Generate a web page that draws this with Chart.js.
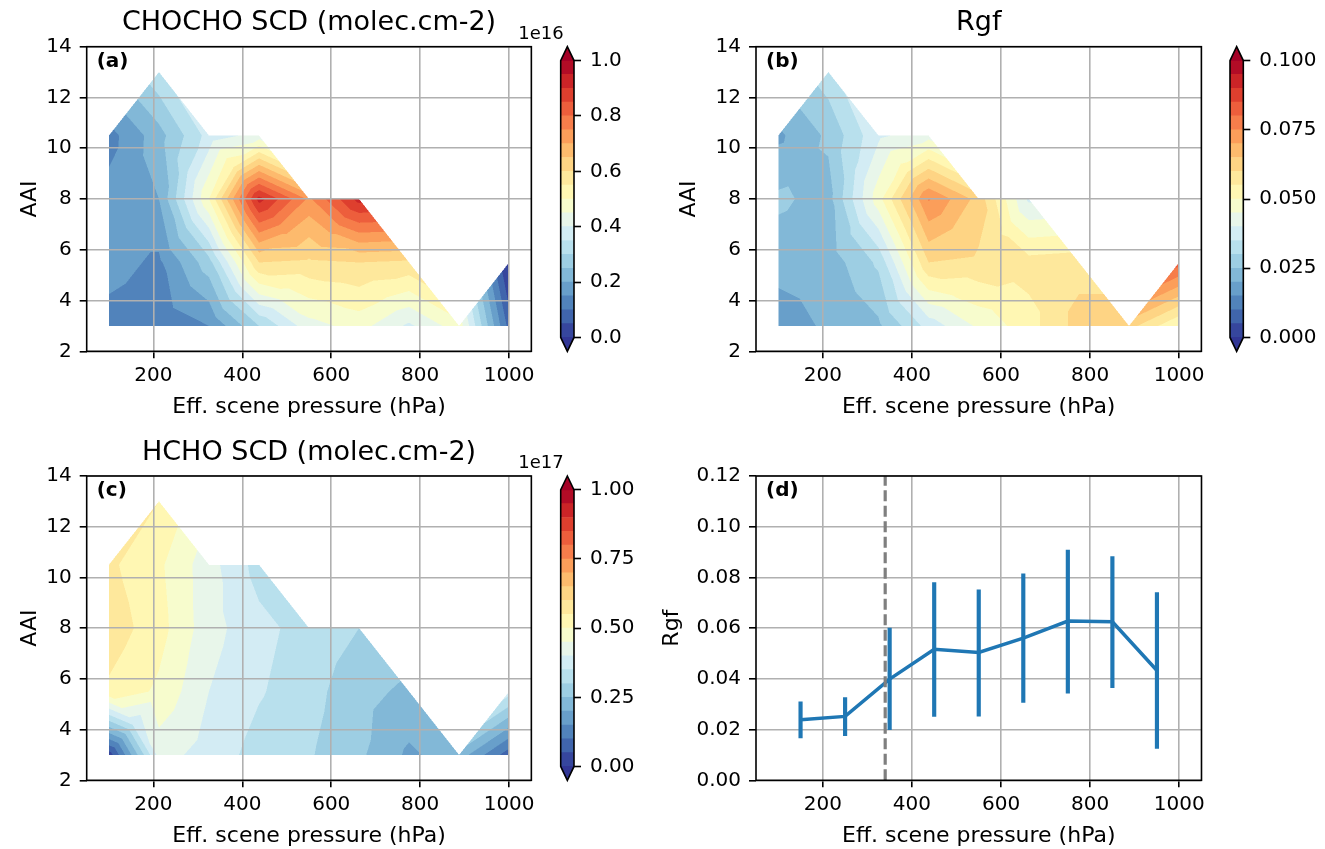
<!DOCTYPE html>
<html>
<head>
<meta charset="utf-8">
<title>CHOCHO, Rgf and HCHO vs AAI and scene pressure</title>
<script src="https://cdn.jsdelivr.net/npm/chart.js@4.4.1/dist/chart.umd.min.js"></script>
<style>
  body { margin: 0; background: #fff; }
  #figure { position: relative; width: 1325px; height: 849px; overflow: hidden; background: #fff; }
  #figure canvas { position: absolute; }
</style>
</head>
<body>
<div id="figure">
  <canvas id="chartA" width="540" height="430" style="left:0px;top:0px"></canvas>
  <canvas id="barA" width="140" height="430" style="left:510px;top:0px"></canvas>
  <canvas id="chartB" width="560" height="430" style="left:650px;top:0px"></canvas>
  <canvas id="barB" width="145" height="430" style="left:1180px;top:0px"></canvas>
  <canvas id="chartC" width="540" height="419" style="left:0px;top:430px"></canvas>
  <canvas id="barC" width="140" height="419" style="left:510px;top:430px"></canvas>
  <canvas id="chartD" width="560" height="419" style="left:650px;top:430px"></canvas>
</div>
<script>
Chart.defaults.font.family = 'DejaVu Sans';
Chart.defaults.color = '#000';
Chart.defaults.animation = false;

// grid nodes of the three maps
const pressure = [100, 212.5, 325, 437.5, 550, 662.5, 775, 887.5, 1000];
const aai = [3, 5.5, 8, 10.5, 13];
const pressureTicks = [200, 400, 600, 800, 1000];
const aaiTicks = [2, 4, 6, 8, 10, 12, 14];

// CHOCHO SCD (x1e16 molec.cm-2), one row per AAI value, null = no data
const chocho = [
  [0.13, 0.12, 0.15, 0.30, 0.43, 0.47, 0.39, 0.48, 0.08],
  [0.17, 0.14, 0.28, 0.60, 0.59, 0.60, 0.59, null, -0.02],
  [0.17, 0.20, 0.50, 0.92, 0.74, 0.92, null, null, null],
  [0.13, 0.23, 0.37, 0.42, null, null, null, null, null],
  [null, 0.34, null, null, null, null, null, null, null]
];
const chochoTicks = [0, 0.2, 0.4, 0.6, 0.8, 1.0];

// Rgf
const rgfMap = [
  [0.017, 0.021, 0.024, 0.037, 0.046, 0.053, 0.062, 0.062, 0.050],
  [0.022, 0.022, 0.031, 0.060, 0.059, 0.057, 0.058, null, 0.082],
  [0.026, 0.023, 0.048, 0.0755, 0.063, 0.039, null, null, null],
  [0.019, 0.026, 0.039, 0.043, null, null, null, null, null],
  [null, 0.033, null, null, null, null, null, null, null]
];
const rgfTicks = [0, 0.025, 0.05, 0.075, 0.1];

// HCHO SCD (x1e17 molec.cm-2)
const hcho = [
  [0.02, 0.42, 0.38, 0.33, 0.305, 0.26, 0.19, 0.23, 0.07],
  [0.54, 0.49, 0.40, 0.355, 0.32, 0.265, 0.24, null, 0.37],
  [0.58, 0.52, 0.42, 0.365, 0.33, 0.30, null, null, null],
  [0.56, 0.51, 0.42, 0.33, null, null, null, null, null],
  [null, 0.55, null, null, null, null, null, null, null]
];
const hchoTicks = [0, 0.25, 0.5, 0.75, 1.0];

const levelCount = 20;

// panel (d): mean Rgf per pressure bin with its spread
const pressureBins = [150, 250, 350, 450, 550, 650, 750, 850, 950];
const rgfMean = [0.0239, 0.0252, 0.0399, 0.0517, 0.0504, 0.0561, 0.0628, 0.0625, 0.0433];
const rgfLow = [0.0167, 0.0176, 0.0200, 0.0252, 0.0253, 0.0307, 0.0344, 0.0365, 0.0126];
const rgfHigh = [0.0309, 0.0326, 0.0600, 0.0780, 0.0751, 0.0814, 0.0908, 0.0882, 0.0740];
const rgfAxisTicks = [0, 0.02, 0.04, 0.06, 0.08, 0.10, 0.12];
const cutoffPressure = 340;

// RdYlBu_r colormap
const rdylbu = ['#313695', '#4575b4', '#74add1', '#abd9e9', '#e0f3f8', '#ffffbf',
                '#fee090', '#fdae61', '#f46d43', '#d73027', '#a50026'].map(h => [
  parseInt(h.slice(1, 3), 16), parseInt(h.slice(3, 5), 16), parseInt(h.slice(5, 7), 16)]);

function cmap(t) {
  t = Math.min(1, Math.max(0, t));
  const s = t * 10;
  const i = Math.min(9, Math.floor(s));
  const f = s - i;
  const a = rdylbu[i], b = rdylbu[i + 1];
  return [a[0] + (b[0] - a[0]) * f, a[1] + (b[1] - a[1]) * f, a[2] + (b[2] - a[2]) * f];
}
function rgb(c) {
  return 'rgb(' + Math.round(c[0]) + ',' + Math.round(c[1]) + ',' + Math.round(c[2]) + ')';
}
function levelColor(v, vmax) {
  const t = v / vmax;
  if (t < 0) return cmap(0);
  if (t >= 1) return cmap(1);
  const k = Math.floor(t * levelCount);
  return cmap((k + 0.5) / levelCount);
}

// linear interpolation on the grid, quads cut in four triangles around their centre,
// quads with one empty corner become one triangle
function bary(u, v, p, q, r, check) {
  const det = (q[1] - r[1]) * (p[0] - r[0]) + (r[0] - q[0]) * (p[1] - r[1]);
  const l1 = ((q[1] - r[1]) * (u - r[0]) + (r[0] - q[0]) * (v - r[1])) / det;
  const l2 = ((r[1] - p[1]) * (u - r[0]) + (p[0] - r[0]) * (v - r[1])) / det;
  const l3 = 1 - l1 - l2;
  if (check && (l1 < -1e-9 || l2 < -1e-9 || l3 < -1e-9)) return NaN;
  return l1 * p[2] + l2 * q[2] + l3 * r[2];
}
function sampleGrid(z, x, y) {
  const nx = pressure.length - 1, ny = aai.length - 1;
  const fx = (x - pressure[0]) / (pressure[1] - pressure[0]);
  const fy = (y - aai[0]) / (aai[1] - aai[0]);
  if (fx < 0 || fy < 0 || fx > nx || fy > ny) return NaN;
  const i = Math.min(Math.floor(fx), nx - 1), j = Math.min(Math.floor(fy), ny - 1);
  const u = fx - i, v = fy - j;
  const c = [[0, 0, z[j][i]], [1, 0, z[j][i + 1]], [1, 1, z[j + 1][i + 1]], [0, 1, z[j + 1][i]]];
  const ok = c.filter(p => p[2] !== null);
  if (ok.length === 4) {
    const m = [0.5, 0.5, (c[0][2] + c[1][2] + c[2][2] + c[3][2]) / 4];
    if (v <= u && v <= 1 - u) return bary(u, v, c[0], c[1], m);
    if (u >= v && u >= 1 - v) return bary(u, v, c[1], c[2], m);
    if (v >= u && v >= 1 - u) return bary(u, v, c[2], c[3], m);
    return bary(u, v, c[3], c[0], m);
  }
  if (ok.length === 3) return bary(u, v, ok[0], ok[1], ok[2], true);
  return NaN;
}

// filled contours, drawn pixel by pixel through the chart scales (2x2 samples per pixel)
const contourPlugin = {
  id: 'contour',
  beforeDatasetsDraw(chart, args, opts) {
    if (!opts.values) return;
    const {ctx, chartArea: a, scales} = chart;
    const x0 = Math.floor(a.left), y0 = Math.floor(a.top);
    const w = Math.ceil(a.right) - x0, h = Math.ceil(a.bottom) - y0;
    const xs = [], ys = [];
    for (let i = 0; i < w * 2; i++) xs.push(scales.x.getValueForPixel(x0 + (i + 0.5) / 2));
    for (let j = 0; j < h * 2; j++) ys.push(scales.y.getValueForPixel(y0 + (j + 0.5) / 2));
    const off = document.createElement('canvas');
    off.width = w; off.height = h;
    const octx = off.getContext('2d');
    const img = octx.createImageData(w, h);
    for (let py = 0; py < h; py++) {
      for (let px = 0; px < w; px++) {
        let r = 0, g = 0, b = 0, n = 0;
        for (let sy = 0; sy < 2; sy++) {
          for (let sx = 0; sx < 2; sx++) {
            const v = sampleGrid(opts.values, xs[px * 2 + sx], ys[py * 2 + sy]);
            if (isNaN(v)) continue;
            const c = levelColor(v, opts.max);
            r += c[0]; g += c[1]; b += c[2]; n++;
          }
        }
        if (!n) continue;
        const k = (py * w + px) * 4;
        img.data[k] = r / n; img.data[k + 1] = g / n; img.data[k + 2] = b / n;
        img.data[k + 3] = 255 * n / 4;
      }
    }
    octx.putImageData(img, 0, 0);
    ctx.drawImage(off, x0, y0);
  }
};

// box round the axes and the panel letter
const framePlugin = {
  id: 'frame',
  afterDraw(chart, args, opts) {
    const {ctx, chartArea: a} = chart;
    ctx.save();
    ctx.strokeStyle = '#000';
    ctx.lineWidth = 1.6;
    ctx.strokeRect(a.left, a.top, a.right - a.left, a.bottom - a.top);
    if (opts.tag) {
      ctx.font = 'bold 20px "DejaVu Sans"';
      ctx.fillStyle = '#000';
      ctx.textAlign = 'left';
      ctx.textBaseline = 'alphabetic';
      ctx.fillText(opts.tag, a.left + 10, a.top + 20);
    }
    ctx.restore();
  }
};

// triangles for extend='both', outline and offset text of a colorbar
const colorbarEnds = {
  id: 'colorbarEnds',
  afterDatasetsDraw(chart, args, opts) {
    const {ctx, chartArea: a, scales: {y}} = chart;
    const lo = y.getPixelForValue(0), hi = y.getPixelForValue(opts.max);
    const tipLo = y.getPixelForValue(-0.05 * opts.max), tipHi = y.getPixelForValue(1.05 * opts.max);
    const mid = (a.left + a.right) / 2;
    ctx.save();
    ctx.fillStyle = rgb(cmap(0));
    ctx.beginPath();
    ctx.moveTo(a.left, lo - 0.5); ctx.lineTo(a.right, lo - 0.5); ctx.lineTo(mid, tipLo);
    ctx.closePath(); ctx.fill();
    ctx.fillStyle = rgb(cmap(1));
    ctx.beginPath();
    ctx.moveTo(a.left, hi + 0.5); ctx.lineTo(a.right, hi + 0.5); ctx.lineTo(mid, tipHi);
    ctx.closePath(); ctx.fill();
    ctx.beginPath();
    ctx.moveTo(a.left, hi); ctx.lineTo(mid, tipHi); ctx.lineTo(a.right, hi);
    ctx.lineTo(a.right, lo); ctx.lineTo(mid, tipLo); ctx.lineTo(a.left, lo);
    ctx.closePath();
    ctx.strokeStyle = '#000'; ctx.lineWidth = 1.6; ctx.stroke();
    if (opts.offset) {
      ctx.font = '18px "DejaVu Sans"';
      ctx.fillStyle = '#000';
      ctx.textAlign = 'right';
      ctx.textBaseline = 'alphabetic';
      ctx.fillText(opts.offset, a.left + 3, a.top - 8);
    }
    ctx.restore();
  }
};

function font(size, weight) {
  return {family: 'DejaVu Sans', size: size, weight: weight || 'normal', lineHeight: 1.2};
}

function pressureAxis(height, titleBottom, gridZ) {
  return {
    type: 'linear', min: 50, max: 1050, offset: false,
    afterBuildTicks: s => { s.ticks = pressureTicks.map(v => ({value: v})); },
    afterFit: s => { s.height = height; },
    ticks: {font: font(20), padding: 5, maxRotation: 0, autoSkip: false, callback: v => String(v)},
    grid: {color: '#b0b0b0', lineWidth: 1.6, tickLength: 7, tickWidth: 1.6, tickColor: '#000', z: gridZ, offset: false},
    border: {display: false},
    title: {display: true, text: 'Eff. scene pressure (hPa)', font: font(22), padding: {top: 0, bottom: titleBottom}}
  };
}

function mapPanel(id, cfg) {
  return new Chart(document.getElementById(id), {
    type: 'scatter',
    data: {datasets: [{
      data: pressure.flatMap((p, i) => aai.map((q, j) => ({x: p, y: q, v: cfg.values[j][i]}))),
      pointRadius: 0
    }]},
    options: {
      responsive: false,
      events: [],
      layout: {padding: {left: 0, right: cfg.padRight, top: 0, bottom: 0}, autoPadding: false},
      plugins: {
        legend: {display: false},
        tooltip: {enabled: false},
        title: {display: true, text: cfg.title, fullSize: false, font: font(27), color: '#000',
                padding: {top: 7, bottom: cfg.top - 39.4}},
        contour: {values: cfg.values, max: cfg.max},
        frame: {tag: cfg.tag}
      },
      scales: {
        x: pressureAxis(cfg.xHeight, cfg.xTitleBottom, 1),
        y: {
          type: 'linear', min: 2, max: 14,
          afterBuildTicks: s => { s.ticks = aaiTicks.map(v => ({value: v})); },
          afterFit: s => { s.width = cfg.yWidth; },
          ticks: {font: font(20), padding: 8, callback: v => String(v)},
          grid: {color: '#b0b0b0', lineWidth: 1.6, tickLength: 7, tickWidth: 1.6, tickColor: '#000', z: 1},
          border: {display: false},
          title: {display: true, text: 'AAI', font: font(22), padding: {top: cfg.yTitleLeft - 13.2, bottom: 0}}
        }
      }
    },
    plugins: [contourPlugin, framePlugin]
  });
}

function colorbar(id, cfg) {
  const step = cfg.max / levelCount;
  const bands = [];
  for (let k = 0; k < levelCount; k++) {
    bands.push({data: [[k * step, (k + 1) * step]], backgroundColor: rgb(cmap((k + 0.5) / levelCount))});
  }
  return new Chart(document.getElementById(id), {
    type: 'bar',
    data: {labels: [''], datasets: bands},
    options: {
      responsive: false,
      events: [],
      layout: {padding: {left: cfg.left, right: 0, top: cfg.top, bottom: cfg.bottom}, autoPadding: false},
      datasets: {bar: {grouped: false, barPercentage: 1, categoryPercentage: 1, borderWidth: 0}},
      plugins: {
        legend: {display: false},
        tooltip: {enabled: false},
        colorbarEnds: {max: cfg.max, offset: cfg.offset}
      },
      scales: {
        x: {display: false},
        y: {
          position: 'right', min: -0.05 * cfg.max, max: 1.05 * cfg.max,
          afterBuildTicks: s => { s.ticks = cfg.ticks.map(v => ({value: v})); },
          afterFit: s => { s.width = cfg.axisWidth; },
          ticks: {font: font(20), padding: 9, callback: v => v.toFixed(cfg.decimals)},
          grid: {display: true, drawOnChartArea: false, drawTicks: true, tickLength: 7, tickWidth: 1.6, tickColor: '#000'},
          border: {display: false}
        }
      }
    },
    plugins: [colorbarEnds]
  });
}

mapPanel('chartA', {title: 'CHOCHO SCD (molec.cm-2)', values: chocho, max: 1.0, tag: '(a)',
  padRight: 7.8, top: 46.7, xHeight: 78.7, xTitleBottom: 9.5, yWidth: 86.7, yTitleLeft: 30});
colorbar('barA', {max: 1.0, ticks: chochoTicks, decimals: 1, offset: '1e16',
  left: 50.7, top: 46.7, bottom: 78.7, axisWidth: 76});

mapPanel('chartB', {title: 'Rgf', values: rgfMap, max: 0.1, tag: '(b)',
  padRight: 6.7, top: 46.7, xHeight: 78.7, xTitleBottom: 9.5, yWidth: 106, yTitleLeft: 39});
colorbar('barB', {max: 0.1, ticks: rgfTicks, decimals: 3, offset: '',
  left: 50, top: 46.7, bottom: 78.7, axisWidth: 81.7});

mapPanel('chartC', {title: 'HCHO SCD (molec.cm-2)', values: hcho, max: 1.0, tag: '(c)',
  padRight: 7.8, top: 46, xHeight: 68.7, xTitleBottom: 0, yWidth: 86.7, yTitleLeft: 30});
colorbar('barC', {max: 1.0, ticks: hchoTicks, decimals: 2, offset: '1e17',
  left: 50.7, top: 46, bottom: 68.7, axisWidth: 76});

// panel (d): Rgf against pressure with the spread as vertical bars
new Chart(document.getElementById('chartD'), {
  type: 'bar',
  data: {
    datasets: [
      {type: 'line', data: [{x: cutoffPressure, y: 0}, {x: cutoffPressure, y: 0.12}],
       borderColor: '#7f7f7f', borderWidth: 3.2, borderDash: [11, 4.5], pointRadius: 0},
      {type: 'line', data: pressureBins.map((p, i) => ({x: p, y: rgfMean[i]})),
       borderColor: '#1f77b4', borderWidth: 3.5, pointRadius: 0, tension: 0},
      {type: 'bar', data: pressureBins.map((p, i) => ({x: p, y: [rgfLow[i], rgfHigh[i]]})),
       backgroundColor: '#1f77b4', barThickness: 3.5, borderWidth: 0}
    ]
  },
  options: {
    responsive: false,
    events: [],
    layout: {padding: {left: 0, right: 6.7, top: 46, bottom: 0}, autoPadding: false},
    plugins: {legend: {display: false}, tooltip: {enabled: false}, frame: {tag: '(d)'}},
    scales: {
      x: pressureAxis(68.7, 0, -1),
      y: {
        type: 'linear', min: 0, max: 0.12,
        afterBuildTicks: s => { s.ticks = rgfAxisTicks.map(v => ({value: v})); },
        afterFit: s => { s.width = 106; },
        ticks: {font: font(20), padding: 8, callback: v => v.toFixed(2)},
        grid: {color: '#b0b0b0', lineWidth: 1.6, tickLength: 7, tickWidth: 1.6, tickColor: '#000'},
        border: {display: false},
        title: {display: true, text: 'Rgf', font: font(22), padding: {top: 22 - 13.2, bottom: 0}}
      }
    }
  },
  plugins: [framePlugin]
});
</script>
</body>
</html>
